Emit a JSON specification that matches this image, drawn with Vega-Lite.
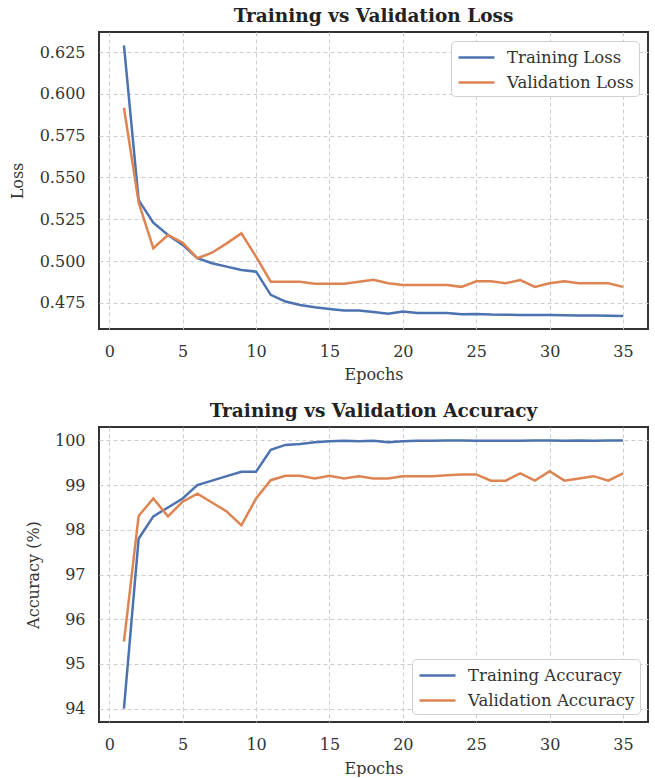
{
  "$schema": "https://vega.github.io/schema/vega-lite/v6.json",
  "autosize": {"type": "pad"},
  "padding": {"left": 8, "top": 5, "right": 0, "bottom": 0},
  "background": "white",
  "config": {
    "font": "DejaVu Serif",
    "view": {"stroke": "#333333", "strokeWidth": 2},
    "axis": {
      "labelFont": "DejaVu Serif", "labelFontSize": 16, "labelColor": "#333333",
      "titleFont": "DejaVu Serif", "titleFontSize": 16, "titleFontWeight": "normal", "titleColor": "#333333",
      "grid": true, "gridColor": "#cccccc", "gridDash": [4, 3], "gridWidth": 1,
      "domain": false, "ticks": false
    },
    "title": {"font": "DejaVu Serif", "fontSize": 18.5, "fontWeight": "bold", "color": "#222222", "offset": 7},
    "legend": {
      "labelFont": "DejaVu Serif", "labelFontSize": 16.5, "labelColor": "#333333", "labelLimit": 400,
      "fillColor": "white", "strokeColor": "#d0d0d0", "cornerRadius": 4, "padding": 5,
      "symbolType": "M-0.9,0L2.7,0", "symbolSize": 400, "symbolStrokeWidth": 2.5, "rowPadding": 5, "labelOffset": 28
    }
  },
  "datasets": {
    "loss": [
      {"epoch": 1, "series": "Training Loss", "loss": 0.629},
      {"epoch": 2, "series": "Training Loss", "loss": 0.5365},
      {"epoch": 3, "series": "Training Loss", "loss": 0.523},
      {"epoch": 4, "series": "Training Loss", "loss": 0.5156},
      {"epoch": 5, "series": "Training Loss", "loss": 0.5097},
      {"epoch": 6, "series": "Training Loss", "loss": 0.5017},
      {"epoch": 7, "series": "Training Loss", "loss": 0.4987},
      {"epoch": 8, "series": "Training Loss", "loss": 0.4967},
      {"epoch": 9, "series": "Training Loss", "loss": 0.4947},
      {"epoch": 10, "series": "Training Loss", "loss": 0.4937},
      {"epoch": 11, "series": "Training Loss", "loss": 0.4798},
      {"epoch": 12, "series": "Training Loss", "loss": 0.4758},
      {"epoch": 13, "series": "Training Loss", "loss": 0.4738},
      {"epoch": 14, "series": "Training Loss", "loss": 0.4724},
      {"epoch": 15, "series": "Training Loss", "loss": 0.4714},
      {"epoch": 16, "series": "Training Loss", "loss": 0.4704},
      {"epoch": 17, "series": "Training Loss", "loss": 0.4704},
      {"epoch": 18, "series": "Training Loss", "loss": 0.4696},
      {"epoch": 19, "series": "Training Loss", "loss": 0.4685},
      {"epoch": 20, "series": "Training Loss", "loss": 0.4698},
      {"epoch": 21, "series": "Training Loss", "loss": 0.469},
      {"epoch": 22, "series": "Training Loss", "loss": 0.469},
      {"epoch": 23, "series": "Training Loss", "loss": 0.469},
      {"epoch": 24, "series": "Training Loss", "loss": 0.4682},
      {"epoch": 25, "series": "Training Loss", "loss": 0.4684},
      {"epoch": 26, "series": "Training Loss", "loss": 0.468},
      {"epoch": 27, "series": "Training Loss", "loss": 0.4679},
      {"epoch": 28, "series": "Training Loss", "loss": 0.4678},
      {"epoch": 29, "series": "Training Loss", "loss": 0.4677},
      {"epoch": 30, "series": "Training Loss", "loss": 0.4677},
      {"epoch": 31, "series": "Training Loss", "loss": 0.4676},
      {"epoch": 32, "series": "Training Loss", "loss": 0.4674},
      {"epoch": 33, "series": "Training Loss", "loss": 0.4674},
      {"epoch": 34, "series": "Training Loss", "loss": 0.4673},
      {"epoch": 35, "series": "Training Loss", "loss": 0.4672},
      {"epoch": 1, "series": "Validation Loss", "loss": 0.5917},
      {"epoch": 2, "series": "Validation Loss", "loss": 0.535},
      {"epoch": 3, "series": "Validation Loss", "loss": 0.5077},
      {"epoch": 4, "series": "Validation Loss", "loss": 0.5156},
      {"epoch": 5, "series": "Validation Loss", "loss": 0.511},
      {"epoch": 6, "series": "Validation Loss", "loss": 0.5017},
      {"epoch": 7, "series": "Validation Loss", "loss": 0.505},
      {"epoch": 8, "series": "Validation Loss", "loss": 0.5106},
      {"epoch": 9, "series": "Validation Loss", "loss": 0.5166},
      {"epoch": 10, "series": "Validation Loss", "loss": 0.5027},
      {"epoch": 11, "series": "Validation Loss", "loss": 0.4877},
      {"epoch": 12, "series": "Validation Loss", "loss": 0.4877},
      {"epoch": 13, "series": "Validation Loss", "loss": 0.4877},
      {"epoch": 14, "series": "Validation Loss", "loss": 0.4865},
      {"epoch": 15, "series": "Validation Loss", "loss": 0.4865},
      {"epoch": 16, "series": "Validation Loss", "loss": 0.4865},
      {"epoch": 17, "series": "Validation Loss", "loss": 0.4877},
      {"epoch": 18, "series": "Validation Loss", "loss": 0.4889},
      {"epoch": 19, "series": "Validation Loss", "loss": 0.4868},
      {"epoch": 20, "series": "Validation Loss", "loss": 0.4857},
      {"epoch": 21, "series": "Validation Loss", "loss": 0.4857},
      {"epoch": 22, "series": "Validation Loss", "loss": 0.4857},
      {"epoch": 23, "series": "Validation Loss", "loss": 0.4857},
      {"epoch": 24, "series": "Validation Loss", "loss": 0.4846},
      {"epoch": 25, "series": "Validation Loss", "loss": 0.4879},
      {"epoch": 26, "series": "Validation Loss", "loss": 0.4879},
      {"epoch": 27, "series": "Validation Loss", "loss": 0.4868},
      {"epoch": 28, "series": "Validation Loss", "loss": 0.4887},
      {"epoch": 29, "series": "Validation Loss", "loss": 0.4846},
      {"epoch": 30, "series": "Validation Loss", "loss": 0.4867},
      {"epoch": 31, "series": "Validation Loss", "loss": 0.4879},
      {"epoch": 32, "series": "Validation Loss", "loss": 0.4867},
      {"epoch": 33, "series": "Validation Loss", "loss": 0.4867},
      {"epoch": 34, "series": "Validation Loss", "loss": 0.4867},
      {"epoch": 35, "series": "Validation Loss", "loss": 0.4846}
    ],
    "acc": [
      {"epoch": 1, "series": "Training Accuracy", "acc": 94.0},
      {"epoch": 2, "series": "Training Accuracy", "acc": 97.8},
      {"epoch": 3, "series": "Training Accuracy", "acc": 98.3},
      {"epoch": 4, "series": "Training Accuracy", "acc": 98.5},
      {"epoch": 5, "series": "Training Accuracy", "acc": 98.7},
      {"epoch": 6, "series": "Training Accuracy", "acc": 99.0},
      {"epoch": 7, "series": "Training Accuracy", "acc": 99.1},
      {"epoch": 8, "series": "Training Accuracy", "acc": 99.2},
      {"epoch": 9, "series": "Training Accuracy", "acc": 99.3},
      {"epoch": 10, "series": "Training Accuracy", "acc": 99.3},
      {"epoch": 11, "series": "Training Accuracy", "acc": 99.79},
      {"epoch": 12, "series": "Training Accuracy", "acc": 99.9},
      {"epoch": 13, "series": "Training Accuracy", "acc": 99.92},
      {"epoch": 14, "series": "Training Accuracy", "acc": 99.96},
      {"epoch": 15, "series": "Training Accuracy", "acc": 99.98},
      {"epoch": 16, "series": "Training Accuracy", "acc": 99.99},
      {"epoch": 17, "series": "Training Accuracy", "acc": 99.98},
      {"epoch": 18, "series": "Training Accuracy", "acc": 99.99},
      {"epoch": 19, "series": "Training Accuracy", "acc": 99.96},
      {"epoch": 20, "series": "Training Accuracy", "acc": 99.98},
      {"epoch": 21, "series": "Training Accuracy", "acc": 99.99},
      {"epoch": 22, "series": "Training Accuracy", "acc": 99.99},
      {"epoch": 23, "series": "Training Accuracy", "acc": 100.0},
      {"epoch": 24, "series": "Training Accuracy", "acc": 100.0},
      {"epoch": 25, "series": "Training Accuracy", "acc": 99.99},
      {"epoch": 26, "series": "Training Accuracy", "acc": 99.99},
      {"epoch": 27, "series": "Training Accuracy", "acc": 99.99},
      {"epoch": 28, "series": "Training Accuracy", "acc": 99.99},
      {"epoch": 29, "series": "Training Accuracy", "acc": 100.0},
      {"epoch": 30, "series": "Training Accuracy", "acc": 100.0},
      {"epoch": 31, "series": "Training Accuracy", "acc": 99.99},
      {"epoch": 32, "series": "Training Accuracy", "acc": 100.0},
      {"epoch": 33, "series": "Training Accuracy", "acc": 99.99},
      {"epoch": 34, "series": "Training Accuracy", "acc": 100.0},
      {"epoch": 35, "series": "Training Accuracy", "acc": 100.0},
      {"epoch": 1, "series": "Validation Accuracy", "acc": 95.5},
      {"epoch": 2, "series": "Validation Accuracy", "acc": 98.31},
      {"epoch": 3, "series": "Validation Accuracy", "acc": 98.7},
      {"epoch": 4, "series": "Validation Accuracy", "acc": 98.3},
      {"epoch": 5, "series": "Validation Accuracy", "acc": 98.63},
      {"epoch": 6, "series": "Validation Accuracy", "acc": 98.81},
      {"epoch": 7, "series": "Validation Accuracy", "acc": 98.61},
      {"epoch": 8, "series": "Validation Accuracy", "acc": 98.41},
      {"epoch": 9, "series": "Validation Accuracy", "acc": 98.1},
      {"epoch": 10, "series": "Validation Accuracy", "acc": 98.7},
      {"epoch": 11, "series": "Validation Accuracy", "acc": 99.11},
      {"epoch": 12, "series": "Validation Accuracy", "acc": 99.21},
      {"epoch": 13, "series": "Validation Accuracy", "acc": 99.21},
      {"epoch": 14, "series": "Validation Accuracy", "acc": 99.15},
      {"epoch": 15, "series": "Validation Accuracy", "acc": 99.21},
      {"epoch": 16, "series": "Validation Accuracy", "acc": 99.15},
      {"epoch": 17, "series": "Validation Accuracy", "acc": 99.2},
      {"epoch": 18, "series": "Validation Accuracy", "acc": 99.15},
      {"epoch": 19, "series": "Validation Accuracy", "acc": 99.15},
      {"epoch": 20, "series": "Validation Accuracy", "acc": 99.2},
      {"epoch": 21, "series": "Validation Accuracy", "acc": 99.2},
      {"epoch": 22, "series": "Validation Accuracy", "acc": 99.2},
      {"epoch": 23, "series": "Validation Accuracy", "acc": 99.22},
      {"epoch": 24, "series": "Validation Accuracy", "acc": 99.24},
      {"epoch": 25, "series": "Validation Accuracy", "acc": 99.24},
      {"epoch": 26, "series": "Validation Accuracy", "acc": 99.1},
      {"epoch": 27, "series": "Validation Accuracy", "acc": 99.1},
      {"epoch": 28, "series": "Validation Accuracy", "acc": 99.26},
      {"epoch": 29, "series": "Validation Accuracy", "acc": 99.1},
      {"epoch": 30, "series": "Validation Accuracy", "acc": 99.31},
      {"epoch": 31, "series": "Validation Accuracy", "acc": 99.1},
      {"epoch": 32, "series": "Validation Accuracy", "acc": 99.15},
      {"epoch": 33, "series": "Validation Accuracy", "acc": 99.2},
      {"epoch": 34, "series": "Validation Accuracy", "acc": 99.1},
      {"epoch": 35, "series": "Validation Accuracy", "acc": 99.26}
    ]
  },
  "vconcat": [
    {
      "title": {"text": "Training vs Validation Loss"},
      "width": 549,
      "height": 297,
      "data": {"name": "loss"},
      "mark": {"type": "line", "strokeWidth": 2.5},
      "encoding": {
        "x": {
          "field": "epoch", "type": "quantitative",
          "scale": {"domain": [-0.7, 36.7], "nice": false, "zero": false},
          "axis": {"title": "Epochs", "values": [0, 5, 10, 15, 20, 25, 30, 35], "labelPadding": 14, "titlePadding": 7}
        },
        "y": {
          "field": "loss", "type": "quantitative",
          "scale": {"domain": [0.4594, 0.637], "nice": false, "zero": false},
          "axis": {"title": "Loss", "values": [0.475, 0.5, 0.525, 0.55, 0.575, 0.6, 0.625], "format": ".3f", "labelPadding": 14, "titlePadding": 14}
        },
        "color": {
          "field": "series", "type": "nominal",
          "scale": {"domain": ["Training Loss", "Validation Loss"], "range": ["#4C72B0", "#DD8452"]},
          "legend": {"title": null, "orient": "top-right", "offset": 9}
        }
      }
    },
    {
      "title": {"text": "Training vs Validation Accuracy"},
      "width": 549,
      "height": 295,
      "data": {"name": "acc"},
      "mark": {"type": "line", "strokeWidth": 2.5},
      "encoding": {
        "x": {
          "field": "epoch", "type": "quantitative",
          "scale": {"domain": [-0.7, 36.7], "nice": false, "zero": false},
          "axis": {"title": "Epochs", "values": [0, 5, 10, 15, 20, 25, 30, 35], "labelPadding": 14, "titlePadding": 8}
        },
        "y": {
          "field": "acc", "type": "quantitative",
          "scale": {"domain": [93.7, 100.3], "nice": false, "zero": false},
          "axis": {"title": "Accuracy (%)", "values": [94, 95, 96, 97, 98, 99, 100], "format": "d", "labelPadding": 14, "titlePadding": 13}
        },
        "color": {
          "field": "series", "type": "nominal",
          "scale": {"domain": ["Training Accuracy", "Validation Accuracy"], "range": ["#4C72B0", "#DD8452"]},
          "legend": {"title": null, "orient": "bottom-right", "offset": 8}
        }
      }
    }
  ],
  "bounds": "flush",
  "spacing": 98,
  "resolve": {"scale": {"color": "independent"}, "legend": {"color": "independent"}}
}
